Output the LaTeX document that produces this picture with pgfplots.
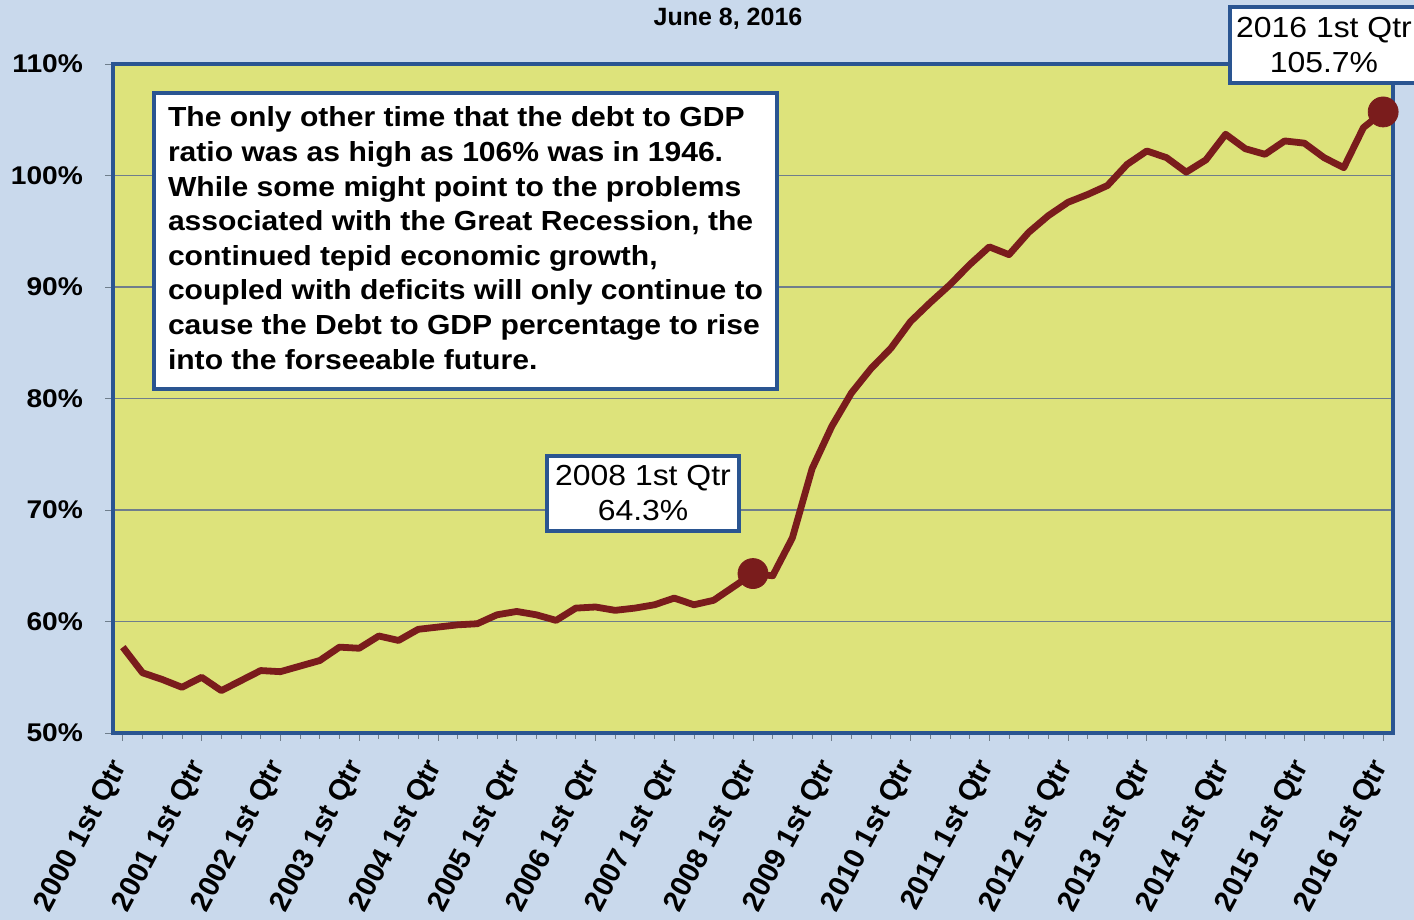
\documentclass[border=0pt]{standalone}
\usepackage{pgfplots}
\pgfplotsset{compat=1.18}
\usepackage{fontspec}
\setmainfont{Liberation Sans}
\newfontfamily\widefont[FakeStretch=1.09]{Liberation Sans}
\newfontfamily\widerfont[FakeStretch=1.1]{Liberation Sans}
\definecolor{bgblue}{HTML}{C9D9EC}
\definecolor{plotyel}{HTML}{DDE37B}
\definecolor{bordblue}{HTML}{2A5591}
\definecolor{maroon}{HTML}{7A1C1C}
\definecolor{gridc}{HTML}{6F7E8C}
\pgfplotstableread{
x y
0 57.7
1 55.4
2 54.8
3 54.1
4 55.0
5 53.8
6 54.7
7 55.6
8 55.5
9 56.0
10 56.5
11 57.7
12 57.6
13 58.7
14 58.3
15 59.3
16 59.5
17 59.7
18 59.8
19 60.6
20 60.9
21 60.6
22 60.1
23 61.2
24 61.3
25 61.0
26 61.2
27 61.5
28 62.1
29 61.5
30 61.9
31 63.1
32 64.3
33 64.1
34 67.5
35 73.7
36 77.5
37 80.5
38 82.7
39 84.5
40 86.9
41 88.6
42 90.2
43 92.0
44 93.6
45 92.9
46 94.9
47 96.4
48 97.6
49 98.3
50 99.1
51 101.0
52 102.2
53 101.6
54 100.3
55 101.4
56 103.7
57 102.4
58 101.9
59 103.1
60 102.9
61 101.6
62 100.7
63 104.3
64 105.7
}\debtdata
\pgfplotstableread{
x y
32 64.3
64 105.7
}\hilite
\begin{document}
\begin{tikzpicture}
\fill[bgblue] (0pt,0pt) rectangle (707pt,460pt);
\begin{axis}[
  at={(56.5pt,93.5pt)}, anchor=south west,
  scale only axis, width=640pt, height=334.5pt,
  xmin=-0.5, xmax=64.5, ymin=50, ymax=110,
  axis background/.style={fill=plotyel},
  axis line style={draw=bordblue, line width=2pt},
  xtick={0,4,...,64},
  minor xtick={0,1,...,64},
  xticklabels={2000 1st Qtr,2001 1st Qtr,2002 1st Qtr,2003 1st Qtr,2004 1st Qtr,2005 1st Qtr,2006 1st Qtr,2007 1st Qtr,2008 1st Qtr,2009 1st Qtr,2010 1st Qtr,2011 1st Qtr,2012 1st Qtr,2013 1st Qtr,2014 1st Qtr,2015 1st Qtr,2016 1st Qtr},
  x tick label style={xshift=-0.5pt, yshift=-10pt, rotate=62, anchor=east, font=\bfseries\fontsize{14.5}{14.5}\selectfont, inner sep=1pt},
  ytick={50,60,...,110},
  yticklabel={\pgfmathprintnumber{\tick}\%},
  y tick label style={font=\widerfont\bfseries\fontsize{12.8}{12.8}\selectfont, xshift=-7.5pt},
  /pgf/number format/assume math mode=true,
  tick align=outside,
  major tick length=4pt, minor tick length=3pt,
  tick style={draw=gridc, line width=0.4pt},
  xtick pos=bottom, ytick pos=left,
  ymajorgrids, grid style={draw=gridc, line width=0.6pt},
  clip=false,
]
\addplot[maroon, line width=3.4pt, line join=round] table[x=x,y=y]{\debtdata};
\addplot[only marks, mark=*, mark size=7.5pt, mark options={fill=maroon, draw=maroon}] table[x=x,y=y]{\hilite};
\end{axis}
\node[anchor=north, font=\bfseries\fontsize{12.5}{12.5}\selectfont] at (364pt,459.5pt) {June 8, 2016};
\node[anchor=north west, draw=bordblue, line width=2pt, fill=white, inner xsep=7pt, inner ysep=7pt, align=left, font=\widefont\bfseries\fontsize{13.8}{17.3}\selectfont] at (76pt,414.5pt) {The only other time that the debt to GDP\\ratio was as high as 106\% was in 1946.\\While some might point to the problems\\associated with the Great Recession, the\\continued tepid economic growth,\\coupled with deficits will only continue to\\cause the Debt to GDP percentage to rise\\into the forseeable future.\rule[-3pt]{0pt}{1pt}};
\node[draw=bordblue, line width=2pt, fill=white, align=center, inner xsep=4pt, inner ysep=5pt, font=\widerfont\fontsize{14.5}{17.5}\selectfont] at (321.5pt,213.25pt) {2008 1st Qtr\\64.3\%};
\node[draw=bordblue, line width=2pt, fill=white, align=center, inner xsep=3pt, inner ysep=5pt, font=\widerfont\fontsize{14.5}{17.5}\selectfont] at (662pt,437.5pt) {2016 1st Qtr\\105.7\%};
\pgfresetboundingbox
\path (0pt,0pt) rectangle (707pt,460pt);
\end{tikzpicture}
\end{document}
